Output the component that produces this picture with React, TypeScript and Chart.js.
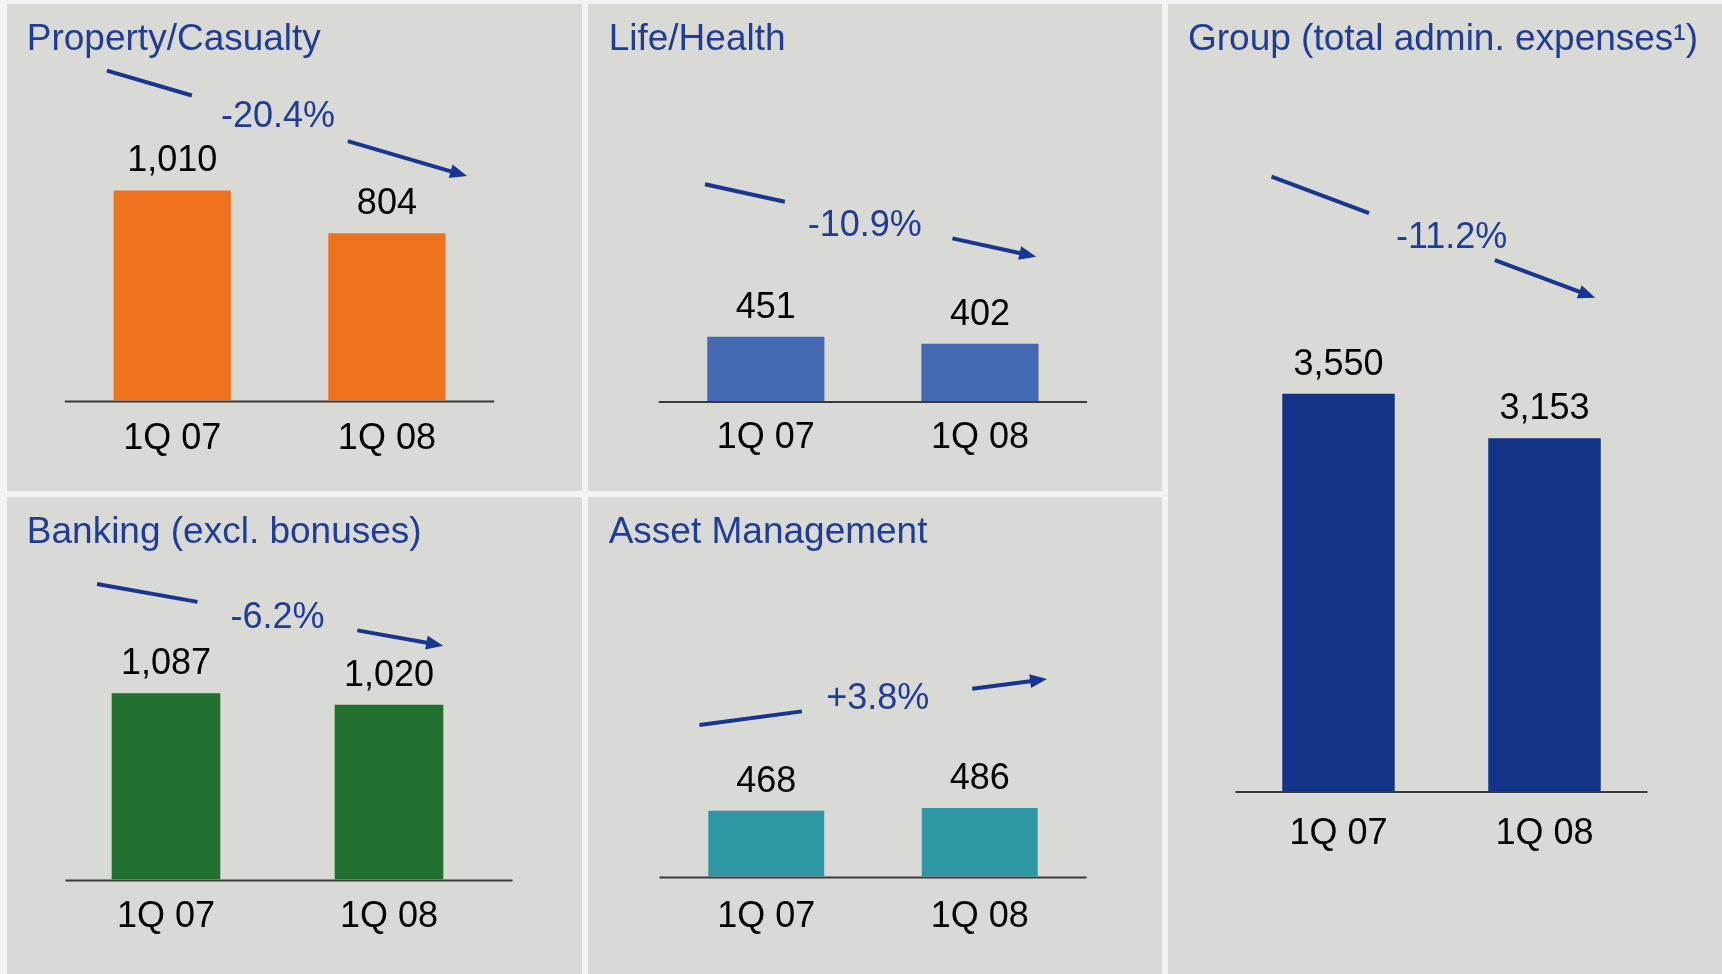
import React, { useEffect, useRef } from "react";
import { Chart, registerables } from "chart.js";

Chart.register(...registerables);

const FONT = "'Liberation Sans', Arial, Helvetica, sans-serif";

// ---- Data ----
const categories = ["1Q 07", "1Q 08"];
const propertyCasualty = [1010, 804];
const lifeHealth = [451, 402];
const groupAdmin = [3550, 3153];
const banking = [1087, 1020];
const assetManagement = [468, 486];
const titles = [
  "Property/Casualty",
  "Life/Health",
  "Group (total admin. expenses\u00B9)",
  "Banking (excl. bonuses)",
  "Asset Management",
];
const changes = ["-20.4%", "-10.9%", "-11.2%", "-6.2%", "+3.8%"];

// ---- Layout / styling (not data) ----
const TITLE_COLOR = "#1f3c96";
const ARROW_COLOR = "#173690";
const PANEL_BG = "#d9d9d5";
const PAGE_BG = "#f3f3f3";
const AXIS_COLOR = "#3a3a3a";

type Panel = {
  title: string;
  values: number[];
  change: string;
  color: string;
  box: { left: number; top: number; width: number; height: number };
  padL: number;
  padR: number;
  axisH: number;
  axisExt: [number, number];
  yMax: number;
  tickPad: number;
  barPct: number;
  titleX: number;
  titleBase: number;
  // annotation in scale coordinates: [category index (fractional), value]
  arrowFrom: [number, number];
  arrowTo: [number, number];
  gap: [number, number];
  labelAt: [number, number];
};

const panels: Panel[] = [
  {
    title: titles[0], values: propertyCasualty, change: changes[0], color: "#f0711e",
    box: { left: 7, top: 4, width: 575, height: 487 },
    padL: 57.85, padR: 87.75, axisH: 90.5, axisExt: [0, 0], yMax: 1906, tickPad: 17, barPct: 0.546,
    titleX: 26.8, titleBase: 50,
    arrowFrom: [-0.304, 1586], arrowTo: [1.373, 1079], gap: [0.236, 0.669], labelAt: [0.493, 1377],
  },
  {
    title: titles[1], values: lifeHealth, change: changes[1], color: "#4369b3",
    box: { left: 588, top: 4, width: 574, height: 487 },
    padL: 70.75, padR: 75, axisH: 90, axisExt: [0, 0], yMax: 2786, tickPad: 15, barPct: 0.547,
    titleX: 608.7, titleBase: 50,
    arrowFrom: [-0.284, 1521], arrowTo: [1.263, 1013], gap: [0.241, 0.747], labelAt: [0.462, 1249],
  },
  {
    title: titles[2], values: groupAdmin, change: changes[2], color: "#123388",
    box: { left: 1168, top: 4, width: 554, height: 970 },
    padL: 67.5, padR: 74.5, axisH: 183, axisExt: [0, 0], yMax: 7033, tickPad: 21, barPct: 0.546,
    titleX: 1188, titleBase: 50,
    arrowFrom: [-0.325, 5490], arrowTo: [1.246, 4408], gap: [0.301, 0.69], labelAt: [0.549, 4969],
  },
  {
    title: titles[3], values: banking, change: changes[3], color: "#21702f",
    box: { left: 7, top: 497, width: 575, height: 477 },
    padL: 47.5, padR: 81.5, axisH: 94.5, axisExt: [11, 12], yMax: 2233, tickPad: 16, barPct: 0.487,
    titleX: 26.8, titleBase: 543.3,
    arrowFrom: [-0.309, 1725], arrowTo: [1.243, 1365], gap: [0.29, 0.752], labelAt: [0.5, 1544],
  },
  {
    title: titles[4], values: assetManagement, change: changes[4], color: "#2e97a4",
    box: { left: 588, top: 497, width: 574, height: 477 },
    padL: 71.5, padR: 75.5, axisH: 97.5, axisExt: [0, 0], yMax: 2697, tickPad: 19, barPct: 0.543,
    titleX: 608.7, titleBase: 543.3,
    arrowFrom: [-0.313, 1077], arrowTo: [1.315, 1404], gap: [0.295, 0.785], labelAt: [0.522, 1284],
  },
];

const overlayPlugin = {
  id: "overlay",
  beforeDatasetsDraw(chart: any, _args: any, opts: any) {
    // baseline (category axis line)
    const ctx = chart.ctx;
    const ca = chart.chartArea;
    ctx.save();
    ctx.strokeStyle = AXIS_COLOR;
    ctx.lineWidth = 2;
    ctx.beginPath();
    ctx.moveTo(ca.left + opts.axisExt[0], ca.bottom + 1);
    ctx.lineTo(ca.right + opts.axisExt[1], ca.bottom + 1);
    ctx.stroke();
    ctx.restore();
  },
  afterDatasetsDraw(chart: any, _args: any, opts: any) {
    const ctx = chart.ctx;
    const meta = chart.getDatasetMeta(0);
    const ds = chart.data.datasets[0];
    ctx.save();
    // value labels above bars
    ctx.font = `36px ${FONT}`;
    ctx.fillStyle = "#000";
    ctx.textAlign = "center";
    ctx.textBaseline = "alphabetic";
    meta.data.forEach((bar: any, i: number) => {
      ctx.fillText(Number(ds.data[i]).toLocaleString("en-US"), bar.x, bar.y - 19);
    });

    // change arrow
    const xs = chart.scales.x;
    const ys = chart.scales.y;
    const x0 = xs.getPixelForValue(opts.arrowFrom[0]);
    const y0 = ys.getPixelForValue(opts.arrowFrom[1]);
    const x1 = xs.getPixelForValue(opts.arrowTo[0]);
    const y1 = ys.getPixelForValue(opts.arrowTo[1]);
    const lerp = (t: number) => [x0 + (x1 - x0) * t, y0 + (y1 - y0) * t];
    const [g1x, g1y] = lerp(opts.gap[0]);
    const [g2x, g2y] = lerp(opts.gap[1]);
    const ang = Math.atan2(y1 - y0, x1 - x0);
    const headLen = 17;
    const headW = 7;
    const bx = x1 - Math.cos(ang) * headLen;
    const by = y1 - Math.sin(ang) * headLen;
    ctx.strokeStyle = ARROW_COLOR;
    ctx.lineWidth = 4;
    ctx.lineCap = "butt";
    ctx.beginPath();
    ctx.moveTo(x0, y0);
    ctx.lineTo(g1x, g1y);
    ctx.moveTo(g2x, g2y);
    ctx.lineTo(bx + Math.cos(ang) * 2, by + Math.sin(ang) * 2);
    ctx.stroke();
    ctx.fillStyle = ARROW_COLOR;
    ctx.beginPath();
    ctx.moveTo(x1, y1);
    ctx.lineTo(bx - Math.sin(ang) * headW, by + Math.cos(ang) * headW);
    ctx.lineTo(bx + Math.sin(ang) * headW, by - Math.cos(ang) * headW);
    ctx.closePath();
    ctx.fill();

    // change label
    ctx.font = `36px ${FONT}`;
    ctx.fillStyle = TITLE_COLOR;
    ctx.textAlign = "center";
    ctx.textBaseline = "middle";
    ctx.fillText(
      opts.text,
      xs.getPixelForValue(opts.labelAt[0]),
      ys.getPixelForValue(opts.labelAt[1]) + 3
    );
    ctx.restore();
  },
};

function PanelChart({ p }: { p: Panel }) {
  const ref = useRef<HTMLCanvasElement | null>(null);
  useEffect(() => {
    if (!ref.current) return;
    const chart = new Chart(ref.current, {
      type: "bar",
      data: {
        labels: categories,
        datasets: [
          {
            data: p.values,
            backgroundColor: p.color,
            borderWidth: 0,
            categoryPercentage: 1,
            barPercentage: p.barPct,
          },
        ],
      },
      options: {
        animation: false,
        responsive: false,
        maintainAspectRatio: false,
        layout: { padding: { left: p.padL, right: p.padR, top: 0, bottom: 0 } },
        plugins: {
          legend: { display: false },
          tooltip: { enabled: false },
          title: { display: false },
          overlay: {
            text: p.change,
            arrowFrom: p.arrowFrom,
            arrowTo: p.arrowTo,
            gap: p.gap,
            labelAt: p.labelAt,
            axisExt: p.axisExt,
          },
        } as any,
        scales: {
          x: {
            grid: { display: false, drawTicks: false },
            border: { display: false },
            ticks: {
              color: "#000",
              padding: p.tickPad,
              font: { size: 36, family: FONT },
              maxRotation: 0,
            },
            afterFit: (scale: any) => {
              scale.height = p.axisH;
            },
          },
          y: { display: false, min: 0, max: p.yMax },
        },
      } as any,
      plugins: [overlayPlugin],
    });
    return () => chart.destroy();
  }, [p]);

  return (
    <>
      <div
        style={{
          position: "absolute",
          left: p.box.left,
          top: p.box.top,
          width: p.box.width,
          height: p.box.height,
          background: PANEL_BG,
        }}
      />
      <canvas
        ref={ref}
        width={p.box.width}
        height={p.box.height}
        style={{
          position: "absolute",
          left: p.box.left,
          top: p.box.top,
          width: p.box.width,
          height: p.box.height,
        }}
      />
      <div
        style={{
          position: "absolute",
          left: p.titleX,
          top: p.titleBase - 31.3,
          fontFamily: FONT,
          fontSize: 37,
          lineHeight: "37px",
          color: TITLE_COLOR,
          whiteSpace: "nowrap",
        }}
      >
        {p.title}
      </div>
    </>
  );
}

export default function App() {
  return (
    <div
      style={{
        position: "fixed",
        left: 0,
        top: 0,
        width: 1722,
        height: 974,
        background: PAGE_BG,
        overflow: "hidden",
      }}
    >
      {panels.map((p, i) => (
        <PanelChart key={i} p={p} />
      ))}
    </div>
  );
}
